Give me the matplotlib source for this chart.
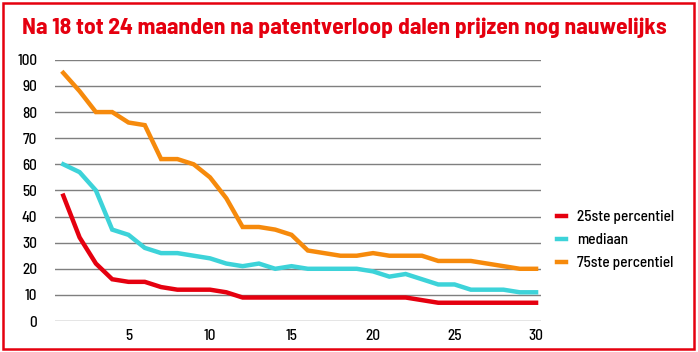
import matplotlib
matplotlib.use('Agg')
import matplotlib.pyplot as plt
from matplotlib.patches import Rectangle

plt.rcParams['font.family'] = ['Barlow Semi Condensed', 'DejaVu Sans']

maanden = list(range(1, 31))
p25 = [48, 32, 22, 16, 15, 15, 13, 12, 12, 12, 11, 9, 9, 9, 9,
       9, 9, 9, 9, 9, 9, 9, 8, 7, 7, 7, 7, 7, 7, 7]
mediaan = [60, 57, 50, 35, 33, 28, 26, 26, 25, 24, 22, 21, 22, 20, 21,
           20, 20, 20, 20, 19, 17, 18, 16, 14, 14, 12, 12, 12, 11, 11]
p75 = [95, 88, 80, 80, 76, 75, 62, 62, 60, 55, 47, 36, 36, 35, 33,
       27, 26, 25, 25, 26, 25, 25, 25, 23, 23, 23, 22, 21, 20, 20]
labels = ['25ste percentiel', 'mediaan', '75ste percentiel']
kleuren = ['#e5000f', '#3dd3d9', '#f68a0c']

fig = plt.figure(figsize=(6.98, 3.52), dpi=100)
ax = fig.add_axes([0.079, 0.088, 0.696, 0.742])

for serie, lab, kl in zip([p25, mediaan, p75], labels, kleuren):
    ax.plot(maanden, serie, color=kl, lw=3.2, label=lab, solid_joinstyle='miter')

ax.set_xlim(0.5, 30.3)
ax.set_ylim(0, 100)
ax.set_yticks(range(0, 101, 10))
ax.set_xticks([5, 10, 15, 20, 25, 30])
ax.grid(axis='y', color='#7f7f7f', lw=1)
ax.set_axisbelow(True)
for s in ax.spines.values():
    s.set_visible(False)
ax.tick_params(length=0, labelsize=11, pad=6)
ax.tick_params(axis='y', pad=13)
for t in ax.get_xticklabels() + ax.get_yticklabels():
    t.set_fontweight('medium')

leg = ax.legend(loc='center left', bbox_to_anchor=(1.005, 0.31), frameon=False,
                fontsize=11, handlelength=0.6, handletextpad=0.7, labelspacing=0.6)
for t in leg.get_texts():
    t.set_fontweight('medium')

fig.text(0.032, 0.92, 'Na 18 tot 24 maanden na patentverloop dalen prijzen nog nauwelijks',
         color='#e5000f', fontsize=17, fontweight='bold', va='center', ha='left')

fig.patches.append(Rectangle((0.005, 0.008), 0.989, 0.983, transform=fig.transFigure,
                             fill=False, edgecolor='#e5000f', lw=1.8))

fig.savefig('out.png', dpi=100)
